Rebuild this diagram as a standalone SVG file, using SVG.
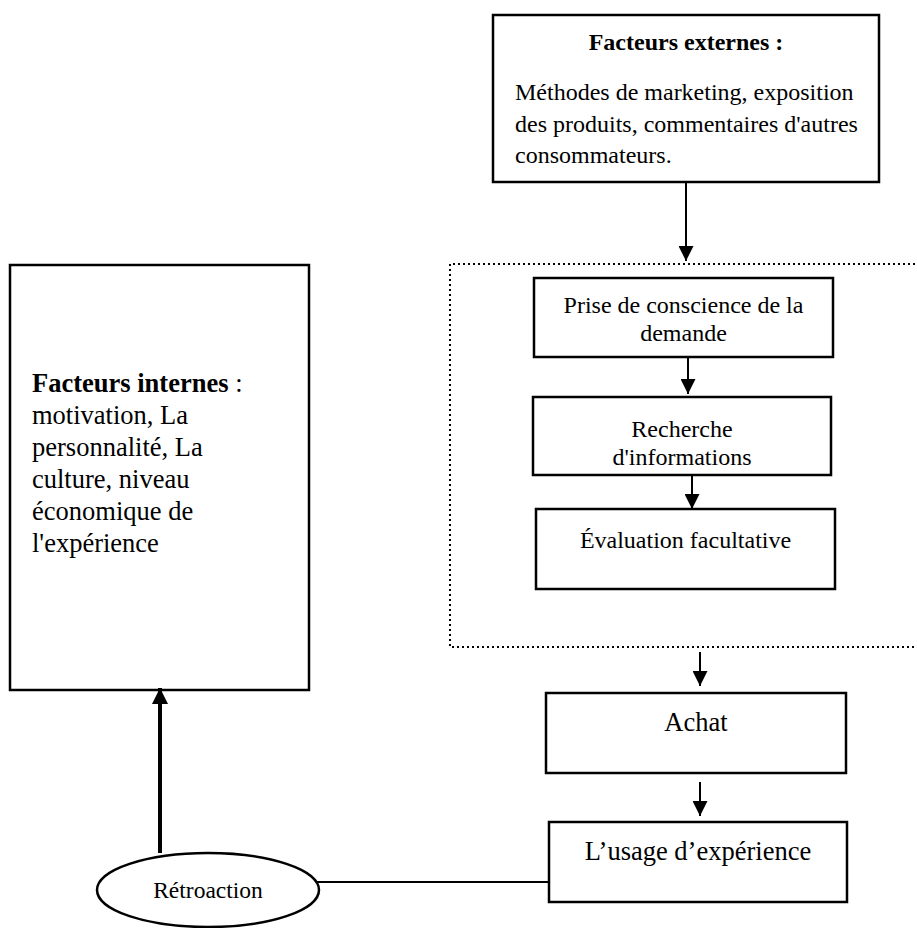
<svg xmlns="http://www.w3.org/2000/svg" width="917" height="928" viewBox="0 0 917 928">
<defs>
<style>
.box{fill:#fff;stroke:#000;stroke-width:2.5}
.t{font-family:"Liberation Serif","Times New Roman",serif;fill:#000}
.s24{font-size:24px}
.s26{font-size:26.5px}
.b{font-weight:bold}
.c{text-anchor:middle}
.ln{stroke:#000;stroke-width:2;fill:none}
.dot{stroke:#000;stroke-width:2;fill:none;stroke-dasharray:2 3}
</style>
<marker id="ah" markerUnits="userSpaceOnUse" viewBox="0 0 15 15" refX="15" refY="7.5" markerWidth="15" markerHeight="15" orient="auto">
<path d="M0,0 L15,7.5 L0,15 z" fill="#000"/>
</marker>
<marker id="ahb" markerUnits="userSpaceOnUse" viewBox="0 0 16 16" refX="16" refY="8" markerWidth="16" markerHeight="16" orient="auto">
<path d="M0,0 L16,8 L0,16 z" fill="#000"/>
</marker>
</defs>
<rect width="917" height="928" fill="#fff"/>

<g id="groupe-decision">
<path class="dot" d="M920,264 H450 V647 H920"/>
</g>

<g id="externes">
<rect class="box" x="493" y="15" width="386" height="167"/>
<text class="t s24 b c" x="686" y="50">Facteurs externes :</text>
<text class="t s24" x="515" y="100">Méthodes de marketing, exposition</text>
<text class="t s24" x="515" y="132">des produits, commentaires d'autres</text>
<text class="t s24" x="515" y="163">consommateurs.</text>
</g>

<g id="internes">
<rect class="box" x="10" y="265" width="299" height="425"/>
<text class="t s26" x="32" y="392"><tspan class="b">Facteurs internes</tspan> :</text>
<text class="t s26" x="32" y="424">motivation, La</text>
<text class="t s26" x="32" y="456">personnalité, La</text>
<text class="t s26" x="32" y="488">culture, niveau</text>
<text class="t s26" x="32" y="520">économique de</text>
<text class="t s26" x="32" y="552">l'expérience</text>
</g>

<g id="prise">
<rect class="box" x="534" y="278" width="299" height="79"/>
<text class="t s24 c" x="683.5" y="313">Prise de conscience de la</text>
<text class="t s24 c" x="683.5" y="341">demande</text>
</g>

<g id="recherche">
<rect class="box" x="533" y="397" width="298" height="78"/>
<text class="t s24 c" x="682" y="437">Recherche</text>
<text class="t s24 c" x="682" y="465">d'informations</text>
</g>

<g id="evaluation">
<rect class="box" x="536" y="509" width="299" height="80"/>
<text class="t s24 c" x="685.5" y="548">Évaluation facultative</text>
</g>

<g id="achat">
<rect class="box" x="546" y="693" width="300" height="80"/>
<text class="t s26 c" x="696" y="731">Achat</text>
</g>

<g id="usage">
<rect class="box" x="549" y="822" width="298" height="80"/>
<text class="t s26 c" x="698" y="860">L’usage d’expérience</text>
</g>

<g id="retroaction">
<ellipse cx="208" cy="890" rx="111" ry="37" fill="#fff" stroke="#000" stroke-width="2.5"/>
<text class="t c" style="font-size:23.5px" x="208" y="898">Rétroaction</text>
</g>

<g id="connecteurs">
<line class="ln" x1="686" y1="182" x2="686" y2="261" marker-end="url(#ah)"/>
<line class="ln" x1="688" y1="357" x2="688" y2="394" marker-end="url(#ah)"/>
<line class="ln" x1="692" y1="475" x2="692" y2="509" marker-end="url(#ah)"/>
<line class="ln" x1="700" y1="652" x2="700" y2="686" marker-end="url(#ah)"/>
<line class="ln" x1="700" y1="782" x2="700" y2="816" marker-end="url(#ah)"/>
<line class="ln" x1="316" y1="882" x2="549" y2="882"/>
<line x1="160" y1="853" x2="160" y2="688" stroke="#000" stroke-width="4" marker-end="url(#ahb)"/>
</g>
</svg>
